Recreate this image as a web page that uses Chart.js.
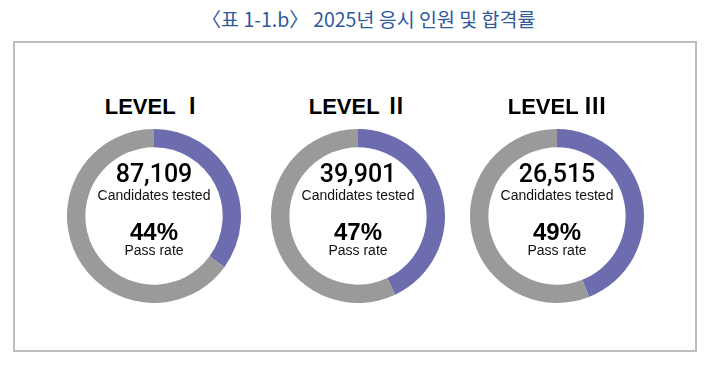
<!DOCTYPE html>
<html>
<head>
<meta charset="utf-8">
<script src="https://cdn.jsdelivr.net/npm/chart.js@4"></script>
<style>
  body { margin: 0; width: 713px; height: 367px; background: #fff; position: relative; overflow: hidden;
         font-family: "Liberation Sans", Arial, "Noto Sans CJK KR", sans-serif; }
  .title { position: absolute; top: 4px; left: 12px; width: 713px; text-align: center;
           font-family: "Noto Sans CJK KR", sans-serif; font-size: 19.5px; color: #2f5a9c; }
  .box { position: absolute; left: 13px; top: 41px; width: 680px; height: 307px; border: 2px solid #bdbdbd; }
  .panel { position: absolute; top: 0; width: 200px; height: 367px; }
  .panel canvas { position: absolute; left: 10px; top: 126px; }
  .lbl { position: absolute; left: 0; width: 200px; text-align: center; color: #000; white-space: nowrap; }
  .level { top: 88px; font-size: 22px; font-weight: bold; }
  .num { top: 159px; font-size: 25px; font-family: Roboto, "Liberation Sans", sans-serif; font-weight: 500; }
  .sub { font-size: 14px; color: #111; }
  .pct { top: 218px; font-size: 24px; font-weight: bold; }
</style>
</head>
<body>
<div class="title">〈표 1-1.b〉 2025년 응시 인원 및 합격률</div>
<div class="box"></div>
<div id="wrap"></div>
<script>
const levels = ['LEVEL Ⅰ', 'LEVEL Ⅱ', 'LEVEL Ⅲ']
const candidates = [87109, 39901, 26515]
const passRates = [44, 47, 49]
// share of the ring actually painted purple in the picture
const arcShares = [35, 43, 44]
const centersX = [154, 358, 557]

const passColor = '#6c6cae'
const restColor = '#9a9a9a'

const wrap = document.getElementById('wrap')
const charts = []

levels.forEach((name, i) => {
  const panel = document.createElement('div')
  panel.className = 'panel'
  panel.style.left = (centersX[i] - 100) + 'px'
  panel.innerHTML =
    '<div class="lbl level">' + name + '</div>' +
    '<canvas id="c' + i + '" width="180" height="180"></canvas>' +
    '<div class="lbl num">' + candidates[i].toLocaleString('en-US') + '</div>' +
    '<div class="lbl sub" style="top:187px">Candidates tested</div>' +
    '<div class="lbl pct">' + passRates[i] + '%</div>' +
    '<div class="lbl sub" style="top:242px">Pass rate</div>'
  wrap.appendChild(panel)

  const canvas = panel.querySelector('canvas')
  charts.push(new Chart(canvas.getContext('2d'), {
    type: 'doughnut',
    data: {
      labels: ['Pass', 'Fail'],
      datasets: [{
        data: [arcShares[i], 100 - arcShares[i]],
        backgroundColor: [passColor, restColor],
        borderWidth: 0
      }]
    },
    options: {
      responsive: false,
      animation: false,
      radius: 87,
      cutout: 71,
      plugins: { legend: { display: false }, tooltip: { enabled: false } }
    }
  }))
})
</script>
</body>
</html>
